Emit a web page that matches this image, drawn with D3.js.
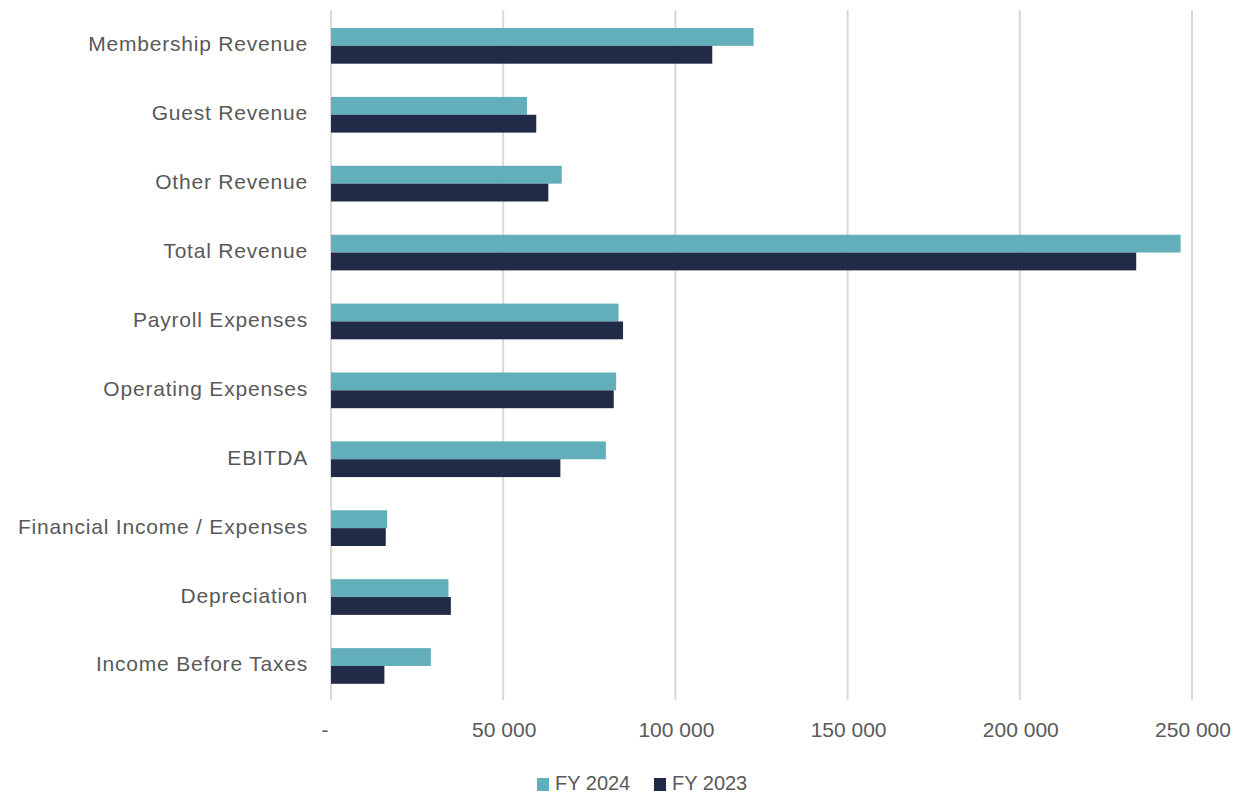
<!DOCTYPE html>
<html><head><meta charset="utf-8">
<script src="https://cdn.jsdelivr.net/npm/d3@7"></script>
<style>
html,body{margin:0;padding:0;background:#fff;}
svg text{font-family:"Liberation Sans",Arial,sans-serif;fill:#595959;}
</style></head>
<body><svg id="c" width="1236" height="800"></svg>
<script>
const categories = ["Membership Revenue","Guest Revenue","Other Revenue","Total Revenue","Payroll Expenses","Operating Expenses","EBITDA","Financial Income / Expenses","Depreciation","Income Before Taxes"];
const fy2024 = [122700, 56900, 67000, 246700, 83500, 82800, 79800, 16300, 34100, 29000];
const fy2023 = [110700, 59600, 63100, 233800, 84800, 82100, 66600, 15900, 34800, 15500];
const seriesNames = ["FY 2024","FY 2023"];
const seriesColors = ["#62AFBB","#212A47"];
const tickValues = [0, 50000, 100000, 150000, 200000, 250000];

const svg = d3.select("#c");
const x = d3.scaleLinear().domain([0, 250000]).range([331, 1192]);
const y = d3.scaleBand().domain(categories).range([11.4, 700.4]).paddingInner(0.482).paddingOuter(0.241);
const sub = d3.scaleBand().domain(seriesNames).range([0, y.bandwidth()]);

// gridlines
svg.append("g").selectAll("line").data(tickValues).join("line")
  .attr("x1", d => x(d)).attr("x2", d => x(d))
  .attr("y1", 10).attr("y2", 700)
  .attr("stroke", "#D9D9D9").attr("stroke-width", 2);

// x tick labels
const fmt = d => d === 0 ? "-" : d3.format(",")(d).replace(/,/g, " ");
svg.append("g").selectAll("text").data(tickValues).join("text")
  .attr("x", d => d === 0 ? x(d) - 6 : x(d) + 1).attr("y", 731)
  .attr("text-anchor", "middle").attr("dominant-baseline", "middle")
  .style("font-size", "21px").text(fmt);

// bars
const series = [fy2024, fy2023];
series.forEach((vals, si) => {
  svg.append("g").selectAll("rect").data(categories).join("rect")
    .attr("x", x(0))
    .attr("y", (c) => y(c) + sub(seriesNames[si]))
    .attr("width", (c, i) => x(vals[i]) - x(0))
    .attr("height", sub.bandwidth())
    .attr("fill", seriesColors[si]);
});

// category labels
svg.append("g").selectAll("text").data(categories).join("text")
  .attr("x", 308).attr("y", c => y(c) + y.bandwidth()/2)
  .attr("text-anchor", "end").attr("dominant-baseline", "middle")
  .style("font-size", "21px").style("letter-spacing", "0.8px").text(c => c);

// legend
const legendX = [537, 654];
const lg = svg.append("g");
seriesNames.forEach((n, i) => {
  lg.append("rect").attr("x", legendX[i]).attr("y", 778).attr("width", 12).attr("height", 13).attr("fill", seriesColors[i]);
  lg.append("text").attr("x", legendX[i] + 18).attr("y", 785).attr("dominant-baseline", "middle")
    .style("font-size", "20px").text(n);
});
</script></body></html>
